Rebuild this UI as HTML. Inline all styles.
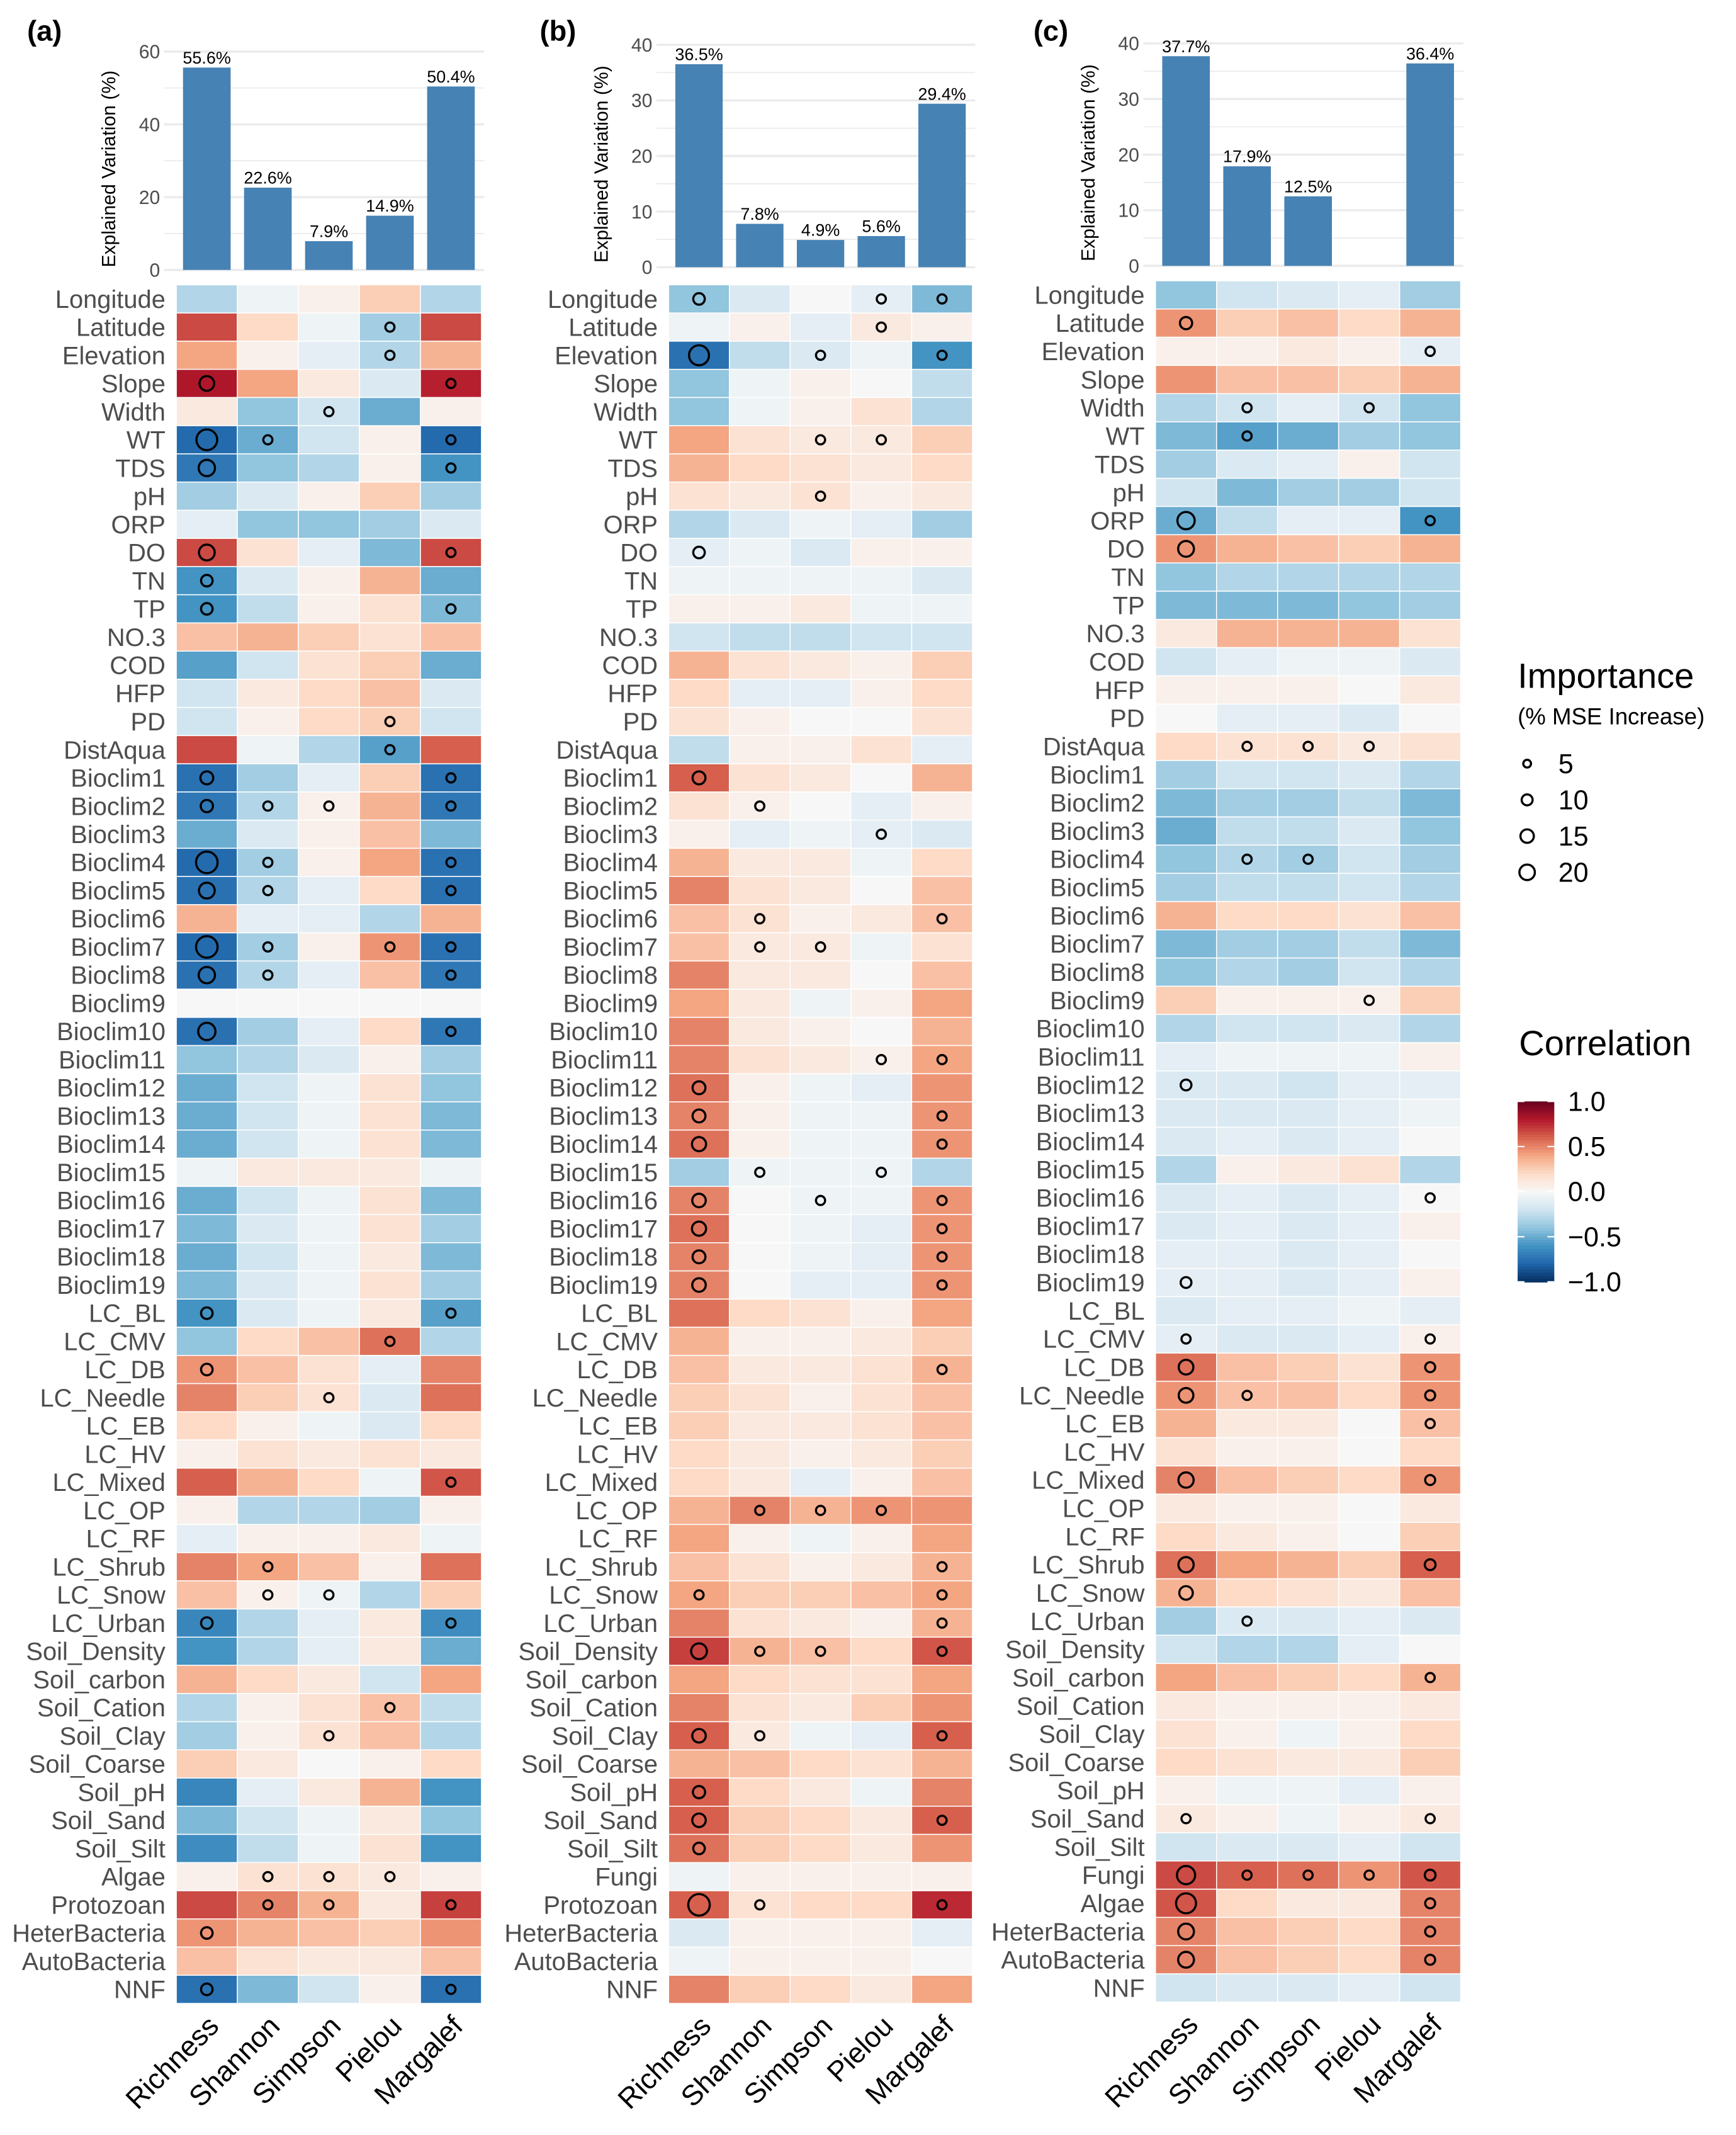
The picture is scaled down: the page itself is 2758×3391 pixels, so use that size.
<!DOCTYPE html>
<html><head><meta charset="utf-8">
<style>
html,body{margin:0;padding:0;background:#fff;}
svg{display:block;font-family:"Liberation Sans",sans-serif;}
</style></head>
<body>
<svg id="fig" width="2758" height="3391" viewBox="0 0 1280 1574" preserveAspectRatio="none" xmlns="http://www.w3.org/2000/svg">
<rect x="0" y="0" width="1280" height="1574" fill="#fff"/>
</svg>
<script>
const metrics = ["Richness","Shannon","Simpson","Pielou","Margalef"];
const barsA = [55.6,22.6,7.9,14.9,50.4];
const barsB = [36.5,7.8,4.9,5.6,29.4];
const barsC = [37.7,17.9,12.5,null,36.4];
const rowsBase = ["Longitude","Latitude","Elevation","Slope","Width","WT","TDS","pH","ORP","DO","TN","TP","NO.3","COD","HFP","PD","DistAqua","Bioclim1","Bioclim2","Bioclim3","Bioclim4","Bioclim5","Bioclim6","Bioclim7","Bioclim8","Bioclim9","Bioclim10","Bioclim11","Bioclim12","Bioclim13","Bioclim14","Bioclim15","Bioclim16","Bioclim17","Bioclim18","Bioclim19","LC_BL","LC_CMV","LC_DB","LC_Needle","LC_EB","LC_HV","LC_Mixed","LC_OP","LC_RF","LC_Shrub","LC_Snow","LC_Urban","Soil_Density","Soil_carbon","Soil_Cation","Soil_Clay","Soil_Coarse","Soil_pH","Soil_Sand","Soil_Silt"];
const rowsA = rowsBase.concat(["Algae","Protozoan","HeterBacteria","AutoBacteria","NNF"]);
const rowsB = rowsBase.concat(["Fungi","Protozoan","HeterBacteria","AutoBacteria","NNF"]);
const rowsC = rowsBase.concat(["Fungi","Algae","HeterBacteria","AutoBacteria","NNF"]);
const corrA = [
[-0.3,-0.05,0.05,0.25,-0.3],[0.7,0.2,-0.05,-0.35,0.7],[0.4,0.05,-0.1,-0.3,0.35],[0.95,0.4,0.1,-0.15,0.9],[0.1,-0.4,-0.2,-0.5,0.05],
[-0.9,-0.5,-0.2,0.05,-0.9],[-0.8,-0.4,-0.3,0.05,-0.6],[-0.35,-0.15,0.05,0.25,-0.35],[-0.1,-0.4,-0.4,-0.35,-0.15],[0.7,0.15,-0.1,-0.45,0.7],
[-0.6,-0.15,0.05,0.35,-0.5],[-0.6,-0.25,0.05,0.15,-0.45],[0.3,0.35,0.25,0.15,0.3],[-0.55,-0.2,0.15,0.25,-0.5],[-0.2,0.1,0.2,0.3,-0.15],
[-0.2,0.05,0.2,0.25,-0.2],[0.7,-0.05,-0.3,-0.55,0.6],[-0.85,-0.35,-0.1,0.25,-0.85],[-0.8,-0.3,0.05,0.35,-0.8],[-0.5,-0.15,0.05,0.3,-0.45],
[-0.9,-0.35,0.05,0.4,-0.85],[-0.85,-0.3,-0.1,0.2,-0.85],[0.35,-0.1,-0.1,-0.3,0.35],[-0.9,-0.35,0.05,0.45,-0.85],[-0.85,-0.3,-0.1,0.3,-0.8],
[0.0,0.0,0.0,0.0,0.0],[-0.85,-0.35,-0.1,0.2,-0.8],[-0.4,-0.3,-0.15,0.05,-0.35],[-0.5,-0.2,-0.05,0.15,-0.4],[-0.5,-0.2,-0.05,0.15,-0.45],
[-0.5,-0.2,-0.05,0.15,-0.45],[-0.05,0.1,0.1,0.1,-0.05],[-0.5,-0.2,-0.05,0.15,-0.45],[-0.45,-0.15,-0.05,0.15,-0.35],[-0.5,-0.2,-0.05,0.1,-0.45],
[-0.45,-0.15,-0.05,0.15,-0.35],[-0.6,-0.15,-0.05,0.1,-0.55],[-0.4,0.2,0.3,0.55,-0.3],[0.45,0.3,0.15,-0.1,0.5],[0.5,0.25,0.15,-0.15,0.55],
[0.2,0.05,-0.05,-0.15,0.2],[0.05,0.15,0.1,0.15,0.1],[0.6,0.35,0.2,-0.05,0.65],[0.05,-0.3,-0.3,-0.35,0.05],[-0.1,0.05,0.05,0.1,-0.05],
[0.5,0.4,0.3,0.05,0.55],[0.3,0.05,-0.05,-0.3,0.25],[-0.7,-0.3,-0.1,0.1,-0.65],[-0.6,-0.3,-0.1,0.1,-0.5],[0.35,0.2,0.1,-0.2,0.4],
[-0.3,0.05,0.15,0.3,-0.25],[-0.35,0.05,0.15,0.3,-0.3],[0.25,0.1,0.0,0.05,0.2],[-0.7,-0.1,0.1,0.35,-0.6],[-0.45,-0.2,-0.05,0.1,-0.4],
[-0.65,-0.25,-0.05,0.15,-0.6],[0.05,0.15,0.15,0.1,0.05],[0.7,0.5,0.35,0.1,0.75],[0.45,0.35,0.3,0.25,0.45],[0.3,0.15,0.1,0.1,0.3],
[-0.85,-0.45,-0.2,0.05,-0.85]];
const corrB = [
[-0.4,-0.15,0.0,-0.1,-0.45],[-0.05,0.05,-0.1,0.1,0.05],[-0.85,-0.25,-0.15,-0.05,-0.6],[-0.4,-0.05,0.05,0.0,-0.25],[-0.4,-0.05,0.05,0.15,-0.3],
[0.4,0.15,0.1,0.1,0.25],[0.35,0.2,0.15,0.1,0.2],[0.15,0.1,0.15,0.05,0.1],[-0.3,-0.15,-0.05,-0.1,-0.35],[-0.1,-0.05,-0.15,0.05,0.05],
[-0.05,-0.05,-0.05,-0.05,-0.15],[0.05,0.05,0.1,-0.05,-0.05],[-0.2,-0.25,-0.25,-0.2,-0.2],[0.35,0.15,0.1,0.05,0.25],[0.2,-0.1,-0.1,0.05,0.2],
[0.15,0.05,0.0,0.0,0.15],[-0.25,0.05,0.05,0.15,-0.1],[0.6,0.15,0.1,0.0,0.35],[0.15,0.05,0.0,-0.1,0.05],[0.05,-0.1,-0.05,-0.1,-0.15],
[0.35,0.1,0.1,-0.05,0.2],[0.5,0.15,0.1,0.0,0.3],[0.3,0.15,0.05,0.1,0.3],[0.3,0.1,0.1,-0.05,0.15],[0.5,0.1,0.1,0.0,0.3],
[0.4,0.1,-0.05,0.05,0.4],[0.5,0.1,0.05,0.0,0.35],[0.5,0.15,0.1,0.05,0.4],[0.55,0.05,-0.05,-0.1,0.45],[0.5,0.05,-0.05,-0.05,0.45],
[0.55,0.05,-0.05,-0.05,0.45],[-0.35,-0.05,-0.05,-0.05,-0.3],[0.5,0.0,-0.05,-0.05,0.45],[0.55,0.0,-0.05,-0.1,0.45],[0.5,0.0,-0.05,-0.1,0.45],
[0.5,0.0,-0.1,-0.1,0.45],[0.55,0.2,0.15,0.05,0.4],[0.35,0.05,0.05,0.1,0.25],[0.3,0.1,0.1,0.15,0.35],[0.25,0.15,0.05,0.15,0.3],
[0.25,0.1,0.1,0.15,0.3],[0.2,0.1,0.05,0.1,0.25],[0.2,0.1,-0.1,0.05,0.3],[0.35,0.5,0.35,0.45,0.45],[0.4,0.05,-0.05,0.05,0.4],
[0.3,0.15,0.05,0.1,0.35],[0.4,0.25,0.25,0.3,0.4],[0.5,0.15,0.1,0.05,0.35],[0.75,0.35,0.3,0.2,0.65],[0.4,0.2,0.15,0.15,0.4],
[0.5,0.15,0.1,0.25,0.45],[0.6,0.1,-0.05,-0.1,0.6],[0.35,0.3,0.2,0.15,0.35],[0.6,0.2,0.1,-0.05,0.5],[0.6,0.25,0.2,0.1,0.6],
[0.55,0.25,0.2,0.1,0.45],[-0.05,0.05,0.05,0.05,0.05],[0.6,0.15,0.2,0.2,0.85],[-0.15,0.05,0.05,0.05,-0.1],[-0.05,0.05,0.05,0.05,0.0],
[0.5,0.25,0.2,0.1,0.4]];
const corrC = [
[-0.4,-0.2,-0.15,-0.1,-0.35],[0.45,0.25,0.3,0.2,0.35],[0.05,0.05,0.1,0.05,-0.1],[0.45,0.3,0.3,0.25,0.35],[-0.3,-0.2,-0.1,-0.2,-0.4],
[-0.45,-0.55,-0.5,-0.35,-0.4],[-0.35,-0.15,-0.1,0.05,-0.2],[-0.2,-0.45,-0.35,-0.35,-0.2],[-0.5,-0.25,-0.1,-0.1,-0.6],[0.45,0.35,0.3,0.25,0.35],
[-0.4,-0.3,-0.3,-0.3,-0.3],[-0.45,-0.45,-0.45,-0.4,-0.35],[0.1,0.35,0.35,0.35,0.15],[-0.2,-0.1,-0.05,-0.05,-0.15],[0.05,0.05,0.05,0.0,0.1],
[0.0,-0.1,-0.1,-0.15,0.0],[0.2,0.15,0.15,0.1,0.15],[-0.35,-0.2,-0.2,-0.15,-0.3],[-0.45,-0.35,-0.35,-0.25,-0.45],[-0.5,-0.25,-0.25,-0.15,-0.4],
[-0.4,-0.3,-0.35,-0.2,-0.35],[-0.35,-0.25,-0.25,-0.2,-0.3],[0.35,0.2,0.2,0.15,0.3],[-0.45,-0.35,-0.35,-0.25,-0.45],[-0.4,-0.3,-0.35,-0.2,-0.3],
[0.25,0.05,0.05,0.05,0.25],[-0.3,-0.2,-0.2,-0.15,-0.3],[-0.1,-0.05,-0.05,-0.05,0.05],[-0.15,-0.15,-0.2,-0.1,-0.1],[-0.15,-0.15,-0.15,-0.1,-0.05],
[-0.15,-0.1,-0.15,-0.1,0.0],[-0.3,0.05,0.1,0.15,-0.3],[-0.15,-0.1,-0.15,-0.1,0.0],[-0.15,-0.1,-0.15,-0.1,0.05],[-0.1,-0.1,-0.15,-0.1,0.0],
[-0.1,-0.1,-0.15,-0.1,0.05],[-0.15,-0.1,-0.1,-0.05,-0.1],[-0.1,-0.15,-0.15,-0.1,0.05],[0.55,0.3,0.25,0.15,0.45],[0.45,0.3,0.3,0.2,0.45],
[0.35,0.1,0.1,0.0,0.3],[0.15,0.05,0.05,0.0,0.2],[0.5,0.3,0.25,0.2,0.45],[0.1,0.05,0.05,0.0,0.1],[0.2,0.1,0.05,0.0,0.25],
[0.55,0.4,0.35,0.25,0.6],[0.35,0.2,0.15,0.1,0.3],[-0.35,-0.15,-0.15,-0.1,-0.15],[-0.2,-0.3,-0.3,-0.1,0.0],[0.4,0.3,0.25,0.2,0.35],
[0.1,0.05,0.05,0.05,0.1],[0.15,0.05,-0.05,0.05,0.2],[0.2,0.15,0.1,0.1,0.25],[0.05,-0.05,-0.05,-0.1,0.05],[0.1,0.05,-0.05,0.05,0.1],
[-0.2,-0.15,-0.15,-0.1,-0.2],[0.7,0.6,0.55,0.45,0.65],[0.65,0.2,0.1,0.1,0.5],[0.5,0.3,0.25,0.2,0.5],[0.5,0.3,0.25,0.2,0.5],
[-0.2,-0.15,-0.15,-0.1,-0.2]];
// importance circles: [rowIndex, colIndex, %MSE]
const impA = [[1,3,5],[2,3,5],[3,0,13],[3,4,5],[4,2,5],[5,0,26],[5,1,5],[5,4,5],[6,0,16],[6,4,5],[9,0,15],[9,4,5],[10,0,8],[11,0,8],[11,4,5],[15,3,5],[16,3,5],[17,0,10],[17,4,5],[18,0,9],[18,1,5],[18,2,5],[18,4,5],[20,0,28],[20,1,5],[20,4,5],[21,0,15],[21,1,5],[21,4,5],[23,0,28],[23,1,5],[23,3,5],[23,4,5],[24,0,16],[24,1,5],[24,4,5],[26,0,18],[26,4,5],[36,0,8],[36,4,5],[37,3,5],[38,0,8],[39,2,5],[42,4,5],[45,1,5],[46,1,5],[46,2,5],[47,0,8],[47,4,5],[50,3,5],[51,2,5],[56,1,5],[56,2,5],[56,3,5],[57,1,5],[57,2,5],[57,4,5],[58,0,8],[60,0,8],[60,4,5]];
const impB = [[0,0,8],[0,3,5],[0,4,5],[1,3,5],[2,0,24],[2,2,5],[2,4,5],[5,2,5],[5,3,5],[7,2,5],[9,0,8],[17,0,10],[18,1,5],[19,3,5],[22,1,5],[22,4,5],[23,1,5],[23,2,5],[27,3,5],[27,4,5],[28,0,10],[29,0,10],[29,4,5],[30,0,12],[30,4,5],[31,1,5],[31,3,5],[32,0,11],[32,2,5],[32,4,5],[33,0,12],[33,4,5],[34,0,10],[34,4,5],[35,0,11],[35,4,5],[38,4,5],[43,1,5],[43,2,5],[43,3,5],[45,4,5],[46,0,5],[46,4,5],[47,4,5],[48,0,15],[48,1,5],[48,2,5],[48,4,5],[51,0,11],[51,1,5],[51,4,5],[53,0,9],[54,0,11],[54,4,5],[55,0,8],[57,0,28],[57,1,5],[57,4,5]];
const impC = [[1,0,9],[2,4,5],[4,1,5],[4,3,5],[5,1,5],[8,0,18],[8,4,5],[9,0,15],[16,1,5],[16,2,5],[16,3,5],[20,1,5],[20,2,5],[25,3,5],[28,0,7],[32,4,5],[35,0,7],[37,0,5],[37,4,5],[38,0,13],[38,4,6],[39,0,13],[39,1,5],[39,4,6],[40,4,5],[42,0,14],[42,4,6],[45,0,14],[45,4,7],[46,0,11],[47,1,5],[49,4,5],[54,0,5],[54,4,5],[56,0,20],[56,1,5],[56,2,5],[56,3,5],[56,4,7],[57,0,24],[57,4,6],[58,0,15],[58,4,6],[59,0,15],[59,4,6]];
const legendSizes = [5,10,15,20];
const cbTicks = [1.0,0.5,0.0,-0.5,-1.0];
const cbLabels = ["1.0","0.5","0.0","\u22120.5","\u22121.0"];

const NS="http://www.w3.org/2000/svg";
const svg=document.getElementById('fig');
function mk(tag,attrs,parent,text){const e=document.createElementNS(NS,tag);for(const k in attrs)e.setAttribute(k,attrs[k]);if(text!==undefined)e.textContent=text;(parent||svg).appendChild(e);return e;}
const stops=["#053061","#2166ac","#4393c3","#92c5de","#d1e5f0","#f7f7f7","#fddbc7","#f4a582","#d6604d","#b2182b","#67001f"];
function hex(h){return [parseInt(h.slice(1,3),16),parseInt(h.slice(3,5),16),parseInt(h.slice(5,7),16)];}
function color(v){let t=(Math.max(-1,Math.min(1,v))+1)/2*10;let i=Math.min(9,Math.floor(t));let f=t-i;const a=hex(stops[i]),b=hex(stops[i+1]);return "rgb("+a.map((x,k)=>Math.round(x+(b[k]-x)*f)).join(",")+")";}
function cellColor(v){const a=Math.abs(v);const s=a>0.6?0.6+(a-0.6)*0.6:a;return color(Math.sign(v)*s);}
function rad(v){return Math.sqrt(v)*1.5;}

const panels=[
 {id:"a",letter:"(a)",lx:20,hx0:130,hx1:355,top:210,bot:1477,by0:199,byT:38,bmax:60,bstep:20,bars:barsA,rows:rowsA,corr:corrA,imp:impA},
 {id:"b",letter:"(b)",lx:398,hx0:493,hx1:717,top:210,bot:1477,by0:197,byT:33,bmax:40,bstep:10,bars:barsB,rows:rowsB,corr:corrB,imp:impB},
 {id:"c",letter:"(c)",lx:762,hx0:852,hx1:1077,top:207,bot:1476,by0:196,byT:32,bmax:40,bstep:10,bars:barsC,rows:rowsC,corr:corrC,imp:impC}
];
panels.forEach(p=>{
 const g=mk('g',{});
 
 
 const cw=(p.hx1-p.hx0)/metrics.length, rh=(p.bot-p.top)/p.rows.length;
 const xC=i=>p.hx0+cw*(i+0.5), yR=r=>p.top+rh*r;
 const yB=v=>p.by0-(v/p.bmax)*(p.by0-p.byT);
 const lt=mk('text',{x:p.lx,y:30,'font-size':21,'font-weight':'bold',fill:'#000'},g,p.letter);
 
 
 for(let v=0;v<=p.bmax;v+=p.bstep/2){
  const major=(v%p.bstep===0);
  const gl=mk('line',{x1:p.hx0-9,x2:p.hx1+2,y1:yB(v),y2:yB(v),stroke:'#ebebeb','stroke-width':major?1.6:0.8},g);
  
  
  if(major){const tl=mk('text',{x:p.hx0-12,y:yB(v)+5,'font-size':14,fill:'#4d4d4d','text-anchor':'end'},g,String(v));
   
   }
 }
 const yt=mk('text',{transform:`translate(${p.hx0-45},${(p.by0+p.byT)/2+6}) rotate(-90)`,'font-size':14,fill:'#000','text-anchor':'middle'},g,'Explained Variation (%)');
 
 
 p.bars.forEach((v,i)=>{
  if(v===null)return;
  const bw=cw*0.78;
  const b=mk('rect',{x:xC(i)-bw/2,y:yB(v),width:bw,height:p.by0-yB(v),fill:'#4682b4'},g);
  
  
  const bl=mk('text',{x:xC(i),y:yB(v)-3,'font-size':12.5,fill:'#000','text-anchor':'middle'},g,v.toFixed(1)+'%');
  
  
 });
 p.rows.forEach((rn,r)=>{
  const lab=mk('text',{x:p.hx0-8,y:yR(r)+rh/2+6.5,'font-size':18.5,fill:'#4d4d4d','text-anchor':'end'},g,rn);
  
  
  p.corr[r].forEach((v,c)=>{
   const cell=mk('rect',{x:p.hx0+cw*c,y:yR(r),width:cw,height:rh,fill:cellColor(v),stroke:'#fff','stroke-width':0.7},g);
   
   
  });
 });
 p.imp.forEach(([r,c,v])=>{
  const ci=mk('circle',{cx:xC(c),cy:yR(r)+rh/2,r:rad(v),fill:'none',stroke:'#000','stroke-width':1.6},g);
  
  
 });
 metrics.forEach((m,i)=>{
  const t=mk('text',{transform:`translate(${xC(i)+10},${p.bot+18}) rotate(-45)`,'font-size':21,fill:'#000','text-anchor':'end'},g,m);
  
  
 });
});
const lg=mk('g',{});


const it=mk('text',{x:1119,y:507,'font-size':26,fill:'#000'},lg,'Importance');


const is=mk('text',{x:1119,y:534,'font-size':17,fill:'#000'},lg,'(% MSE Increase)');


legendSizes.forEach((s,i)=>{
 const y=561+i*26.7;
 const c=mk('circle',{cx:1126,cy:y+2,r:rad(s)*0.85,fill:'none',stroke:'#000','stroke-width':1.6},lg);
 
 
 const t=mk('text',{x:1149,y:y+9,'font-size':20,fill:'#000'},lg,String(s));
 
 
});
const cg=mk('g',{});


const ct=mk('text',{x:1120,y:778,'font-size':26,fill:'#000'},cg,'Correlation');


const cbTop=812,cbBot=945,cbX=1119;
const cbY=v=>cbTop+(1-v)/2*(cbBot-cbTop);
for(let k=0;k<60;k++){
 const v=1-2*k/60;
 const s=mk('rect',{x:cbX,y:cbY(v),width:27,height:(cbBot-cbTop)/60+0.5,fill:color(v-1/60)},cg);
 
 
}
cbTicks.forEach((v,i)=>{
 mk('line',{x1:cbX,x2:cbX+5,y1:cbY(v),y2:cbY(v),stroke:'#fff','stroke-width':1},cg);
 mk('line',{x1:cbX+22,x2:cbX+27,y1:cbY(v),y2:cbY(v),stroke:'#fff','stroke-width':1},cg);
 const t=mk('text',{x:cbX+37,y:cbY(v)+7,'font-size':20,fill:'#000'},cg,cbLabels[i]);
 
 
});
</script>
</body></html>
